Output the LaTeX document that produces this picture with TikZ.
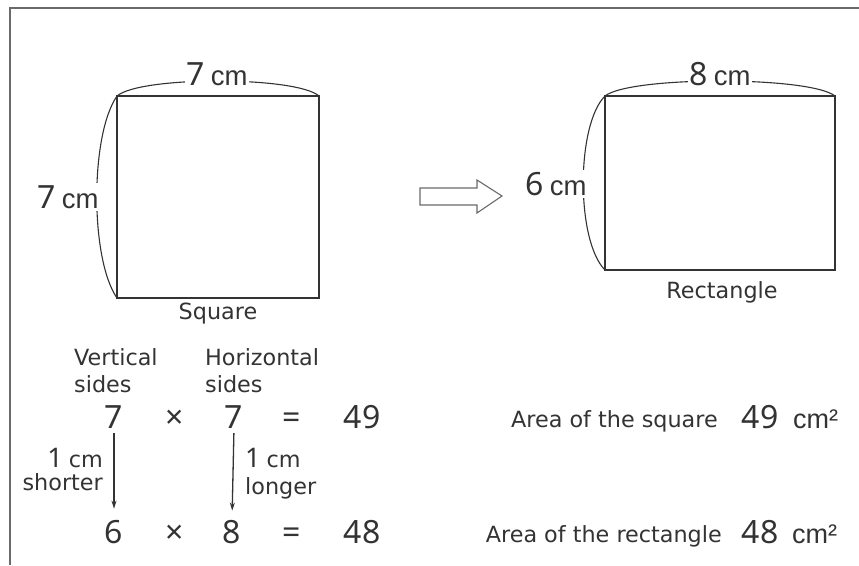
\documentclass[tikz,border=0pt]{standalone}
\usepackage{fontspec}
\usepackage{xcolor}
\usetikzlibrary{arrows.meta}
\setmainfont{DejaVu Sans}
\newfontfamily\numfont{Noto Sans}
\newfontfamily\unitfont{Liberation Sans}
\definecolor{ink}{HTML}{333333}
\definecolor{framegray}{HTML}{6A6A6A}
\newcommand{\sidelen}[1]{{\numfont\fontsize{32}{36}\selectfont #1}\hspace{6pt}{\unitfont\fontsize{27.5}{30}\selectfont cm}}

\begin{document}
\begin{tikzpicture}[x=1pt,y=-1pt,
    lbl/.style={font=\fontsize{22.3}{26}\selectfont, text=ink, inner sep=0pt},
    num/.style={font=\numfont\fontsize{32}{36}\selectfont, text=ink, inner sep=0pt},
    unit/.style={font=\unitfont\fontsize{27}{30}\selectfont, text=ink, inner sep=0pt},
    dimlbl/.style={fill=white, text=ink, inner sep=2pt},
    side/.style={draw=ink, line width=1.3pt},
    bow/.style={draw=ink, line width=1.1pt},
    change/.style={draw=ink, line width=1.3pt, -{Stealth[length=8pt,width=5pt]}}]
\useasboundingbox (0,0) rectangle (859,565);

% Frame
\draw[framegray, line width=2pt] (10,565) -- (10,8) -- (859,8);

% Square
\draw[side] (117,96) rectangle (319,298);
\draw[bow] (117,96) .. controls (140,76) and (296,76) .. (319,96);
\draw[bow] (117,96) .. controls (90,135) and (90,259) .. (117,298);
\node[dimlbl] (sqtop) at (217,74) {\sidelen{7}};
\node[dimlbl] (sqleft) at (68,197) {\sidelen{7}};
\node[lbl] (sqname) at (218,314) {Square};

% Change arrow
\draw[framegray, line width=1.1pt] (420,188) -- (477,188) -- (477,180) -- (502,196)
    -- (477,213) -- (477,205) -- (420,205) -- cycle;

% Rectangle
\draw[side] (605,96) rectangle (835,270);
\draw[bow] (605,96) .. controls (630,76) and (810,76) .. (835,96);
\draw[bow] (605,96) .. controls (576,125) and (576,241) .. (605,270);
\node[dimlbl] (retop) at (720,74) {\sidelen{8}};
\node[dimlbl] (releft) at (556,184) {\sidelen{6}};
\node[lbl] (rename) at (722,292) {Rectangle};

% Headings
\node[lbl, align=left, anchor=north west] (vhead) at (74,348) {Vertical\\[1pt]sides};
\node[lbl, align=left, anchor=north west] (hhead) at (205,348) {Horizontal\\[1pt]sides};

% Square sum
\node[num, anchor=base] (vtop) at (114,428) {7};
\node[num, anchor=base] (xtop) at (175,428) {×};
\node[num, anchor=base] (htop) at (234,428) {7};
\node[num, anchor=base] (etop) at (292,428) {=};
\node[num, anchor=base] (atop) at (362,428) {49};

% Rectangle sum
\node[num, anchor=base] (vbot) at (114,543) {6};
\node[num, anchor=base] (xbot) at (175,543) {×};
\node[num, anchor=base] (hbot) at (232,543) {8};
\node[num, anchor=base] (ebot) at (292,543) {=};
\node[num, anchor=base] (abot) at (362,543) {48};

% Changes of the sides
\draw[change, shorten <=5pt, shorten >=11pt] (vtop.south) -- (vbot.north);
\draw[change, shorten <=5pt, shorten >=9pt] (htop.south) -- (hbot.north);
\node[lbl, anchor=east] (vlen) at (103,458) {{\numfont\fontsize{27}{30}\selectfont 1}\hspace{6pt}cm};
\node[lbl, anchor=east] (vnote) at (103,482) {shorter};
\node[lbl, anchor=west] (hlen) at (245,458) {{\numfont\fontsize{27}{30}\selectfont 1}\hspace{6pt}cm};
\node[lbl, anchor=west] (hnote) at (245,488) {longer};

% Areas
\node[lbl, anchor=base east] (sqarea) at (718,427) {Area of the square};
\node[num, anchor=base] (sqval) at (760,428) {49};
\node[unit, anchor=base west] (squnit) at (793,428) {cm²};
\node[lbl, anchor=base east] (rearea) at (722,542) {Area of the rectangle};
\node[num, anchor=base] (reval) at (760,543) {48};
\node[unit, anchor=base west] (reunit) at (792,543) {cm²};
\end{tikzpicture}
\end{document}
